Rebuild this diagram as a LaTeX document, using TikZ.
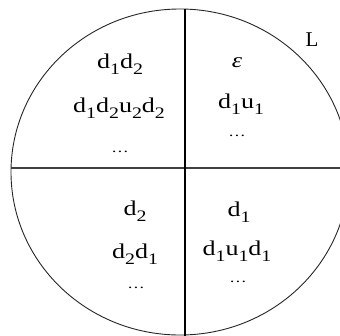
\documentclass[tikz,border=0pt]{standalone}
\usepackage{fontspec}
\setmainfont{Liberation Serif}
\newcommand{\subs}[1]{\raisebox{-6pt}{\fontsize{16}{16}\selectfont #1}}
\newcommand{\wide}[1]{\scalebox{1.24}[1]{#1}}
\tikzset{
  lbl/.style={inner sep=0pt, anchor=base, font=\fontsize{21}{21}\selectfont},
  dts/.style={inner sep=0pt, anchor=base, font=\fontsize{14}{14}\selectfont},
  rim/.style={draw=black!85, line width=0.9pt},
  axis/.style={draw=black, line width=1.3pt},
}
\begin{document}
\begin{tikzpicture}[x=1pt,y=-1pt]
\useasboundingbox (0,0) rectangle (340,335);
\begin{scope}
\clip (0,0) rectangle (340,335);
\coordinate (ctr) at (180,172);
\draw[rim] (ctr) ellipse [x radius=169, y radius=163];
\coordinate (vtop) at (185,9);
\coordinate (vbot) at (185,336);
\coordinate (hl) at (11,168);
\coordinate (hr) at (341,168);
\draw[axis, draw=black!75, line width=1.6pt] (hl) -- (hr);
\draw[axis] (vtop) -- (vbot);
\end{scope}
% top-left
\node[lbl] (tl1) at (120,68) {\wide{d\subs{1}d\subs{2}}};
\node[lbl] (tl2) at (119,112) {\wide{d\subs{1}d\subs{2}u\subs{2}d\subs{2}}};
\node[dts] (tl3) at (120,152) {\wide{\ldots}};
% top-right
\node[lbl] (tr1) at (237,67) {\wide{\textit{ε}}};
\node[lbl] (tr2) at (241,108) {\wide{d\subs{1}u\subs{1}}};
\node[dts] (tr3) at (237,136) {\wide{\ldots}};
% bottom-left
\node[lbl] (bl1) at (135,215) {\wide{d\subs{2}}};
\node[lbl] (bl2) at (135,258) {\wide{d\subs{2}d\subs{1}}};
\node[dts] (bl3) at (136,288) {\wide{\ldots}};
% bottom-right
\node[lbl] (br1) at (239,216) {\wide{d\subs{1}}};
\node[lbl] (br2) at (237,255) {\wide{d\subs{1}u\subs{1}d\subs{1}}};
\node[dts] (br3) at (238,282) {\wide{\ldots}};
% label L
\node[lbl] (L) at (312,46) {L};
\end{tikzpicture}
\end{document}
